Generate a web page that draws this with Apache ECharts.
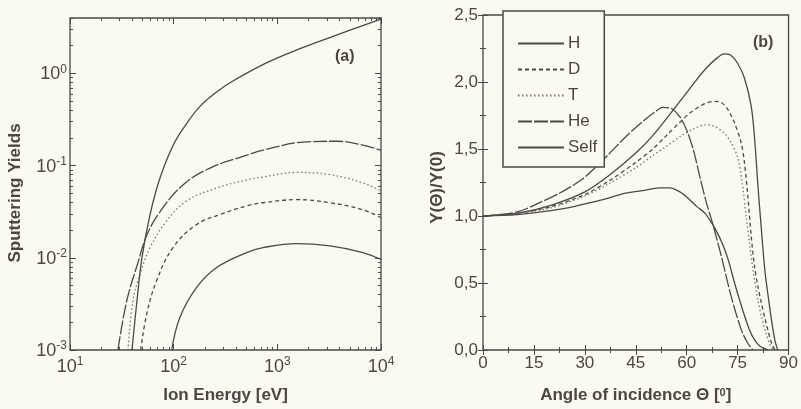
<!DOCTYPE html>
<html>
<head>
<meta charset="utf-8">
<script src="https://cdn.jsdelivr.net/npm/echarts@6/dist/echarts.min.js"></script>
<style>
  html, body { margin: 0; padding: 0; background: #fafaf2; }
  #main { width: 801px; height: 409px; }
</style>
</head>
<body>
<div id="main"></div>
<script>
// ---- panel (a): sputtering yield vs ion energy [eV] ----
var energyTicks = [10, 100, 1000, 10000];
var yieldTicks = [0.001, 0.01, 0.1, 1];

var yieldH = [[95.7,0.001],[115,0.00227],[166.7,0.00479],[260,0.00785],[506,0.0114],[727,0.0129],[1538,0.01426],[3221,0.01346],[6700,0.0114],[10000,0.0096]];
var yieldD = [[48.1,0.001],[55,0.00247],[68.6,0.00569],[98.5,0.0129],[166.7,0.023],[280,0.0295],[506,0.0366],[727,0.0396],[1538,0.0428],[3221,0.0396],[6700,0.0332],[10000,0.0272]];
var yieldT = [[36.3,0.001],[40.5,0.00346],[47.3,0.0066],[59.1,0.0129],[85.7,0.0252],[133.6,0.0415],[260,0.0573],[506,0.070],[727,0.0753],[1538,0.0844],[3221,0.0798],[6700,0.0649],[10000,0.0532]];
var yieldHe = [[29,0.001],[35.2,0.00338],[45.3,0.0089],[55.3,0.0178],[73.8,0.0316],[123,0.0618],[224,0.0942],[509,0.130],[727,0.147],[1770,0.180],[3758,0.184],[6700,0.167],[10000,0.147]];
var yieldSelf = [[39.6,0.001],[44.3,0.00346],[49.5,0.0101],[59.1,0.0293],[73.8,0.0734],[100,0.171],[134,0.288],[179.5,0.44],[256,0.622],[373,0.828],[794,1.31],[1655,1.86],[3444,2.53],[10000,3.90]];

// ---- panel (b): Y(theta)/Y(0) vs angle of incidence [deg] ----
var angleH = [[0,1.00],[10,1.02],[20,1.08],[30,1.18],[37,1.30],[45,1.47],[50,1.60],[56,1.79],[60,1.92],[63,2.02],[66,2.11],[69,2.18],[71,2.21],[73,2.20],[75,2.14],[77,2.03],[79,1.82],[80,1.58],[81,1.22],[82,0.90],[83,0.60],[84,0.40],[85,0.22],[86,0.07],[86.8,0]];
var angleD = [[0,1.00],[10,1.02],[20,1.07],[30,1.16],[37,1.26],[45,1.40],[50,1.50],[54,1.60],[58,1.70],[61,1.77],[64,1.82],[66,1.845],[68.3,1.855],[70,1.85],[72,1.80],[74,1.70],[76,1.55],[77,1.40],[78,1.15],[79,0.85],[80,0.62],[81,0.47],[82,0.35],[83,0.24],[84,0.14],[85,0.05],[86,0]];
var angleT = [[0,1.00],[10,1.02],[20,1.06],[30,1.15],[37,1.24],[45,1.36],[50,1.45],[54,1.52],[58.5,1.60],[62,1.65],[65.4,1.68],[68,1.67],[71,1.62],[73,1.55],[75,1.44],[76.5,1.22],[77.5,1.00],[78.5,0.80],[79.5,0.60],[81,0.37],[82,0.25],[83.3,0.13],[84.5,0.04],[85.5,0]];
var angleHe = [[0,1.00],[10,1.03],[16.7,1.10],[22.5,1.17],[29,1.27],[33,1.36],[37,1.46],[42,1.59],[46.8,1.70],[50.8,1.78],[53,1.81],[55.6,1.80],[58,1.74],[60,1.64],[62,1.49],[63.9,1.29],[65.8,1.10],[67.8,0.93],[70.2,0.70],[73.1,0.40],[76.1,0.15],[78,0.05],[79.5,0]];
var angleSelf = [[0,1.00],[10,1.01],[20,1.04],[25,1.06],[30,1.09],[35,1.12],[42,1.17],[47,1.19],[52,1.21],[55,1.21],[58,1.18],[60.5,1.13],[63,1.07],[65.4,1.02],[67.8,0.93],[69.5,0.85],[71.2,0.75],[72.5,0.65],[74.1,0.50],[75.5,0.38],[77.1,0.25],[78.5,0.15],[80,0.075],[81.5,0.03],[83,0.01],[84,0]];

var names = ['H', 'D', 'T', 'He', 'Self'];

// minor ticks of the log axes (2..9 of every decade)
function minorOf(lo, hi) {
  var out = [];
  for (var d = lo; d < hi; d *= 10) {
    for (var k = 2; k <= 9; k++) {
      if (d * k <= hi) out.push(+(d * k).toPrecision(3));
    }
  }
  return out;
}
var energyMinor = minorOf(10, 10000);
var yieldMinor = minorOf(0.001, 4);

var ink = '#4b4945';
var textCol = '#4a4742';
var font = 'Liberation Sans, Arial, Helvetica, sans-serif';

var lineStyles = {
  H: { type: 'solid', color: ink },
  D: { type: [4, 3], color: ink },
  T: { type: [1.5, 2.5], color: '#77736c' },
  He: { type: [14, 2], color: ink },
  Self: { type: 'solid', color: ink }
};

var powRich = {
  b: { fontSize: 18, lineHeight: 20, verticalAlign: 'bottom', color: textCol, fontFamily: font },
  s: { fontSize: 12, lineHeight: 9, verticalAlign: 'top', color: textCol, fontFamily: font }
};
function powLabel(v) {
  return '{b|10}{s|' + Math.round(Math.log10(v)) + '}';
}

function logAxis(grid, pos, min, max, major, minor, isX, showLabel, extra) {
  var base = {
    gridIndex: grid, type: 'log', logBase: 10, min: min, max: max, position: pos,
    axisLine: { show: false },
    splitLine: { show: false },
    axisTick: { show: true, inside: true, length: minor ? 3 : 6, customValues: minor || major,
      lineStyle: { color: ink, width: 1 } },
    axisLabel: { show: false }
  };
  if (showLabel) {
    base.axisLabel = { show: true, customValues: major, formatter: powLabel, rich: powRich,
      margin: isX ? 6 : 3 };
  }
  return Object.assign(base, extra || {});
}

function valAxis(grid, pos, min, max, interval, showLabel, extra) {
  var a = {
    gridIndex: grid, type: 'value', min: min, max: max, interval: interval, position: pos,
    axisLine: { show: false },
    splitLine: { show: false },
    axisTick: { show: true, inside: true, length: 5, lineStyle: { color: ink, width: 1 } },
    minorTick: { show: true, splitNumber: 2, length: 3, lineStyle: { color: ink, width: 1 } },
    axisLabel: { show: showLabel, color: textCol, fontSize: 17, fontFamily: font, margin: 5,
      formatter: function (v) { return pos === 'left' || pos === 'right' ? v.toFixed(1).replace('.', ',') : String(v); } }
  };
  return Object.assign(a, extra || {});
}

var nameStyle = { fontSize: 17, fontWeight: 'bold', color: textCol, fontFamily: font };

var series = [];
var leftData = { H: yieldH, D: yieldD, T: yieldT, He: yieldHe, Self: yieldSelf };
var rightData = { H: angleH, D: angleD, T: angleT, He: angleHe, Self: angleSelf };
names.forEach(function (n) {
  series.push({
    name: n, type: 'line', xAxisIndex: 0, yAxisIndex: 0, data: leftData[n],
    symbol: 'none', smooth: 0.4, clip: true,
    lineStyle: Object.assign({ width: 1.3 }, lineStyles[n]), itemStyle: { color: lineStyles[n].color }
  });
  series.push({
    name: n, type: 'line', xAxisIndex: 4, yAxisIndex: 4, data: rightData[n],
    symbol: 'none', smooth: 0.3, clip: true,
    lineStyle: Object.assign({ width: 1.3 }, lineStyles[n]), itemStyle: { color: lineStyles[n].color }
  });
});

var myChart = echarts.init(document.getElementById('main'));
var option = {
  backgroundColor: '#fafaf2',
  animation: false,
  textStyle: { fontFamily: font },
  grid: [
    { left: 70, right: 420, top: 18, bottom: 56, show: true, borderColor: ink, borderWidth: 1.3, backgroundColor: 'transparent' },
    { left: 483, right: 10, top: 15, bottom: 59, show: true, borderColor: ink, borderWidth: 1.3, backgroundColor: 'transparent' }
  ],
  xAxis: [
    logAxis(0, 'bottom', 10, 10000, energyTicks, null, true, true,
      { name: 'Ion Energy [eV]', nameLocation: 'middle', nameGap: 37, nameTextStyle: nameStyle }),
    logAxis(0, 'bottom', 10, 10000, energyTicks, energyMinor, true, false),
    logAxis(0, 'top', 10, 10000, energyTicks, null, true, false),
    logAxis(0, 'top', 10, 10000, energyTicks, energyMinor, true, false),
    valAxis(1, 'bottom', 0, 90, 15, true, {
      name: 'Angle of incidence Θ [{s|0}]', nameLocation: 'middle', nameGap: 37,
      nameTextStyle: Object.assign({}, nameStyle, {
        rich: { s: { fontSize: 11, fontWeight: 'bold', color: textCol, fontFamily: font, verticalAlign: 'top', lineHeight: 8 } }
      })
    }),
    valAxis(1, 'top', 0, 90, 15, false)
  ],
  yAxis: [
    logAxis(0, 'left', 0.001, 4, yieldTicks, null, false, true,
      { name: 'Sputtering Yields', nameLocation: 'middle', nameGap: 46, nameTextStyle: Object.assign({}, nameStyle, { padding: [0, 0, 0, -18] }) }),
    logAxis(0, 'left', 0.001, 4, yieldTicks, yieldMinor, false, false),
    logAxis(0, 'right', 0.001, 4, yieldTicks, null, false, false),
    logAxis(0, 'right', 0.001, 4, yieldTicks, yieldMinor, false, false),
    valAxis(1, 'left', 0, 2.5, 0.5, true, {
      name: 'Y(Θ)/Y(0)', nameLocation: 'middle', nameGap: 37, nameTextStyle: Object.assign({}, nameStyle, { padding: [0, 0, 0, -10] })
    }),
    valAxis(1, 'right', 0, 2.5, 0.5, false)
  ],
  legend: {
    data: names, orient: 'vertical', left: 503, top: 11,
    padding: [24, 7, 11, 14], itemWidth: 46, itemHeight: 14, itemGap: 9,
    borderColor: ink, borderWidth: 1.5, backgroundColor: '#fafaf2',
    selectedMode: false,
    itemStyle: { color: 'rgba(0,0,0,0)', borderWidth: 0, opacity: 0 },
    textStyle: { fontSize: 17, lineHeight: 14, color: textCol, fontFamily: font, padding: [0, 0, 0, -1] }
  },
  graphic: [
    { type: 'text', left: 335, top: 49, style: { text: '(a)', font: 'bold 16px ' + font, fill: textCol } },
    { type: 'text', left: 753, top: 35, style: { text: '(b)', font: 'bold 16px ' + font, fill: textCol } }
  ],
  series: series
};
myChart.setOption(option);
</script>
</body>
</html>
